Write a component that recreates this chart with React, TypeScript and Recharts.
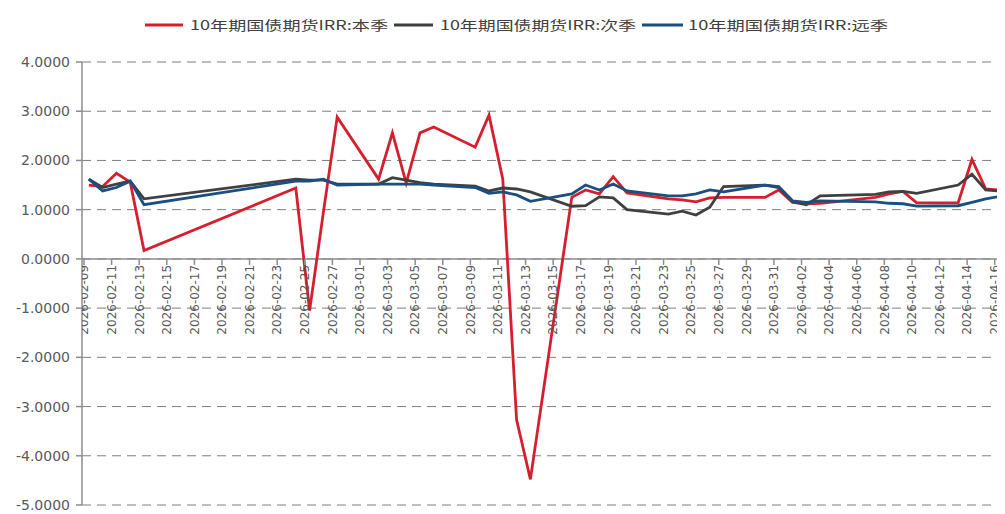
import React from 'react';
import { ComposedChart, Line, Scatter, XAxis, YAxis, CartesianGrid, Legend, ReferenceLine } from 'recharts';

const dates = [
  '2026-02-09', '2026-02-10', '2026-02-11', '2026-02-12', '2026-02-13',
  '2026-02-24', '2026-02-25', '2026-02-26', '2026-02-27',
  '2026-03-02', '2026-03-03', '2026-03-04', '2026-03-05', '2026-03-06',
  '2026-03-09', '2026-03-10', '2026-03-11', '2026-03-12', '2026-03-13',
  '2026-03-16', '2026-03-17', '2026-03-18', '2026-03-19', '2026-03-20',
  '2026-03-23', '2026-03-24', '2026-03-25', '2026-03-26', '2026-03-27',
  '2026-03-30', '2026-03-31', '2026-04-01', '2026-04-02', '2026-04-03',
  '2026-04-07', '2026-04-08', '2026-04-09', '2026-04-10',
  '2026-04-13', '2026-04-14', '2026-04-15', '2026-04-16',
];

// 10年期国债期货IRR:本季
const irrCurrent = [
  1.50, 1.47, 1.74, 1.56, 0.17,
  1.44, -1.05, 0.95, 2.88,
  1.62, 2.56, 1.54, 2.56, 2.68,
  2.27, 2.92, 1.62, -3.27, -4.48,
  1.25, 1.40, 1.32, 1.67, 1.34,
  1.22, 1.20, 1.16, 1.24, 1.25,
  1.25, 1.40, 1.15, 1.12, 1.13,
  1.25, 1.32, 1.37, 1.14,
  1.14, 2.02, 1.42, 1.40,
];

// 10年期国债期货IRR:次季
const irrNext = [
  1.62, 1.45, 1.52, 1.58, 1.22,
  1.62, 1.60, 1.60, 1.52,
  1.52, 1.65, 1.60, 1.55, 1.52,
  1.48, 1.38, 1.44, 1.42, 1.36,
  1.07, 1.08, 1.26, 1.24, 1.00,
  0.91, 0.97, 0.89, 1.05, 1.47,
  1.50, 1.45, 1.16, 1.10, 1.28,
  1.31, 1.36, 1.37, 1.33,
  1.50, 1.72, 1.40, 1.38,
];

// 10年期国债期货IRR:远季
const irrFar = [
  1.62, 1.38, 1.45, 1.58, 1.10,
  1.58, 1.58, 1.62, 1.50,
  1.52, 1.52, 1.52, 1.52, 1.50,
  1.45, 1.33, 1.36, 1.30, 1.17,
  1.32, 1.50, 1.40, 1.52, 1.38,
  1.28, 1.28, 1.32, 1.40, 1.36,
  1.50, 1.47, 1.18, 1.15, 1.18,
  1.16, 1.13, 1.12, 1.07,
  1.08, 1.15, 1.22, 1.27,
];

const tickLabels = [
  '2026-02-09', '2026-02-11', '2026-02-13', '2026-02-15', '2026-02-17', '2026-02-19',
  '2026-02-21', '2026-02-23', '2026-02-25', '2026-02-27', '2026-03-01', '2026-03-03',
  '2026-03-05', '2026-03-07', '2026-03-09', '2026-03-11', '2026-03-13', '2026-03-15',
  '2026-03-17', '2026-03-19', '2026-03-21', '2026-03-23', '2026-03-25', '2026-03-27',
  '2026-03-29', '2026-03-31', '2026-04-02', '2026-04-04', '2026-04-06', '2026-04-08',
  '2026-04-10', '2026-04-12', '2026-04-14', '2026-04-16',
];

const yTicks = [-5, -4, -3, -2, -1, 0, 1, 2, 3, 4];

const seriesNames = ['10年期国债期货IRR:本季', '10年期国债期货IRR:次季', '10年期国债期货IRR:远季'];
const seriesColors = ['#d51f2e', '#404040', '#1b4f80'];

const DAY_MS = 86400000;
const ORIGIN = Date.UTC(2026, 1, 9);
const dayIndex = (s: string) => {
  const [y, m, d] = s.split('-').map(Number);
  return Math.round((Date.UTC(y, m - 1, d) - ORIGIN) / DAY_MS);
};
const POINT_SHIFT = 0.35;
const toRows = (vals: number[]) => dates.map((d, i) => ({ x: dayIndex(d) + POINT_SHIFT, y: vals[i] }));
const seriesRows = [toRows(irrCurrent), toRows(irrNext), toRows(irrFar)];
const tickRows = tickLabels.map((l) => ({ x: dayIndex(l), y: 0, label: l }));

const AXIS_COLOR = '#8c8c8c';
const TEXT_COLOR = '#595959';

const XTickMark = (props: any) => {
  const { cx, cy } = props;
  const label = props.payload?.label ?? props.label;
  if (cx == null || cy == null) return null;
  const ty = cy + 6;
  return (
    <g>
      <line x1={cx} y1={cy} x2={cx} y2={cy + 6} stroke={AXIS_COLOR} strokeWidth={1.5} />
      <text
        x={cx}
        y={ty}
        transform={`rotate(-90 ${cx} ${ty})`}
        textAnchor="end"
        dy="0.36em"
        fontFamily="DejaVu Sans"
        fontSize={12}
        fill={TEXT_COLOR}
      >
        {label}
      </text>
    </g>
  );
};

const YTick = (props: any) => {
  const { x, y, payload } = props;
  return (
    <text x={x} y={y} dy="0.36em" textAnchor="end" fontFamily="DejaVu Sans" fontSize={14} fill={TEXT_COLOR}>
      {Number(payload.value).toFixed(4)}
    </text>
  );
};

const legendLayout = [
  { lineX: 137, lineLen: 38, textX: 182, textLen: 198 },
  { lineX: 386, lineLen: 39, textX: 432, textLen: 196 },
  { lineX: 634, lineLen: 41, textX: 680, textLen: 200 },
];

const LegendContent = () => (
  <svg width={997} height={30} style={{ display: 'block' }}>
    {seriesNames.map((name, i) => {
      const l = legendLayout[i];
      return (
        <g key={name}>
          <line x1={l.lineX} y1={17} x2={l.lineX + l.lineLen} y2={17} stroke={seriesColors[i]} strokeWidth={3} />
          <text
            x={l.textX}
            y={17}
            dy="0.36em"
            fontFamily="Noto Sans CJK SC"
            fontSize={13}
            fill="#404040"
            textLength={l.textLen}
            lengthAdjust="spacingAndGlyphs"
          >
            {name}
          </text>
        </g>
      );
    })}
  </svg>
);

export default function App() {
  return (
    <ComposedChart width={997} height={506} margin={{ top: 24, right: 2, bottom: 9, left: 0 }}>
      <Legend
        verticalAlign="top"
        align="left"
        content={<LegendContent />}
        wrapperStyle={{ top: 0, left: 0, width: 997, height: 30 }}
      />
      <CartesianGrid vertical={false} stroke="#7f7f7f" strokeDasharray="9 6" />
      <XAxis dataKey="x" type="number" domain={[-0.145, 66.6]} allowDataOverflow hide />
      <YAxis
        type="number"
        domain={[-5, 4]}
        ticks={yTicks}
        interval={0}
        width={74}
        tickSize={6}
        tickMargin={6}
        axisLine={{ stroke: AXIS_COLOR, strokeWidth: 1.5 }}
        tickLine={{ stroke: AXIS_COLOR, strokeWidth: 1.5 }}
        tick={<YTick />}
        allowDataOverflow
      />
      <ReferenceLine y={0} stroke={AXIS_COLOR} strokeWidth={1.5} />
      <Scatter data={tickRows} dataKey="y" shape={<XTickMark />} isAnimationActive={false} legendType="none" />
      {seriesRows.map((rows, i) => (
        <Line
          key={seriesNames[i]}
          data={rows}
          dataKey="y"
          name={seriesNames[i]}
          stroke={seriesColors[i]}
          strokeWidth={2.8}
          dot={false}
          activeDot={false}
          isAnimationActive={false}
        />
      ))}
    </ComposedChart>
  );
}
